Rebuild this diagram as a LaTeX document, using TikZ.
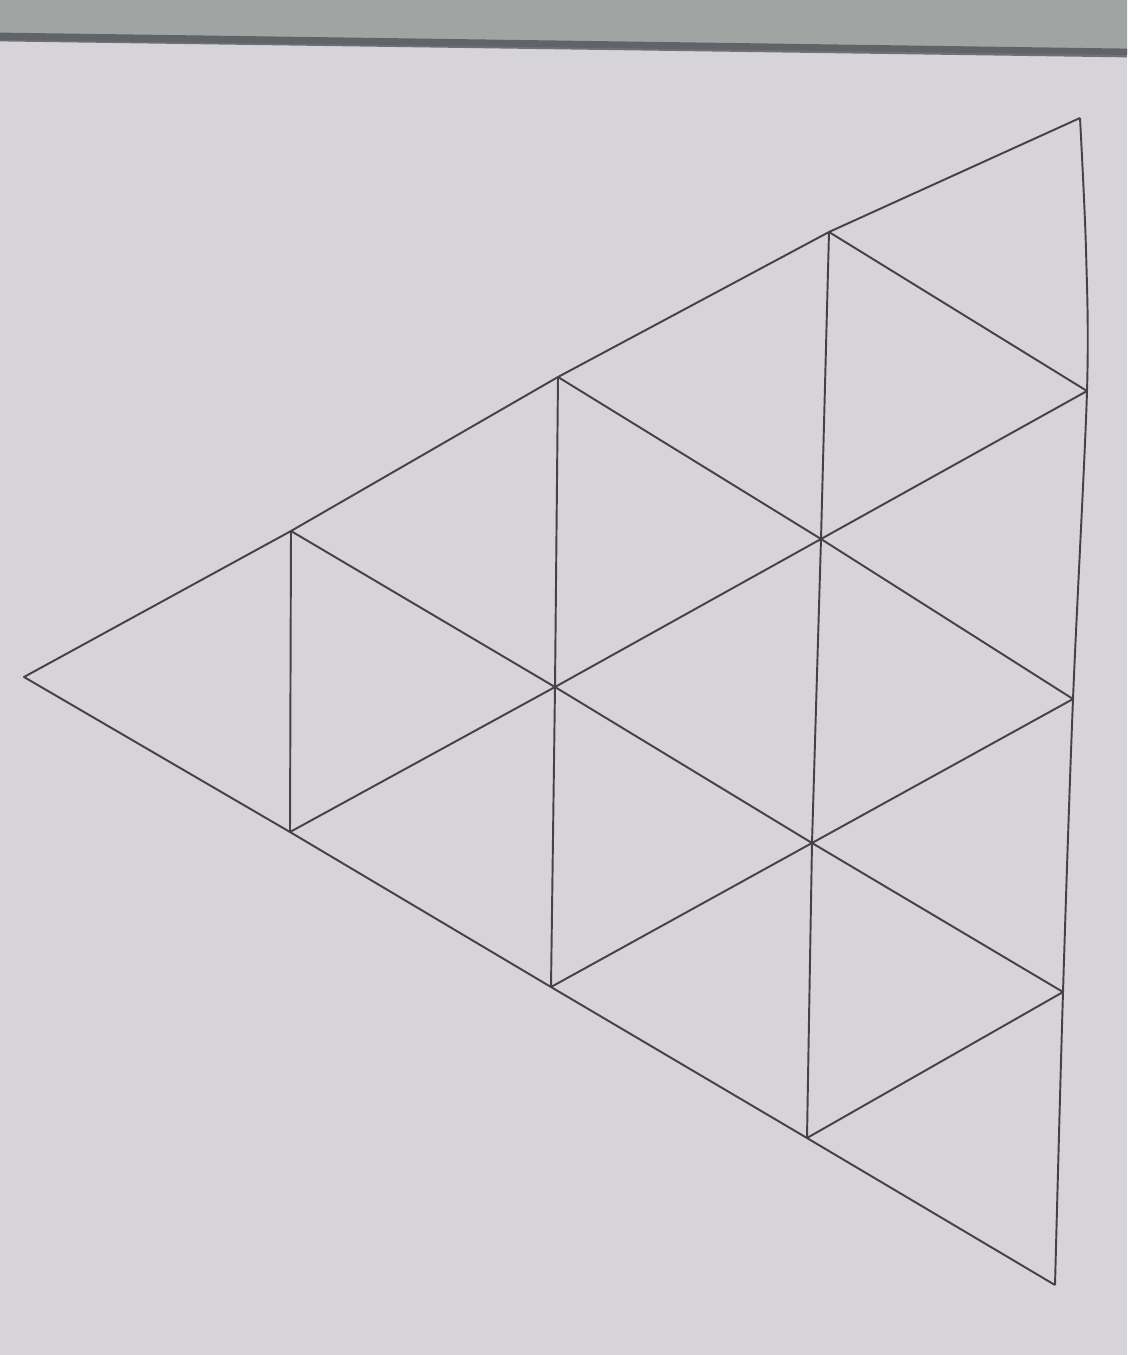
\documentclass[tikz,border=0pt]{standalone}
\definecolor{paper}{RGB}{214,212,216}
\definecolor{band}{RGB}{160,165,163}
\definecolor{bandedge}{RGB}{70,72,80}
\definecolor{ink}{RGB}{68,66,70}
\begin{document}
\begin{tikzpicture}[x=0.02cm,y=-0.02cm,
  edge/.style={draw=ink, line width=1.1pt, line join=round}]
\useasboundingbox (0,0) rectangle (1127,1355);
% paper
\fill[paper] (0,0) rectangle (1127,1355);
\fill[band] (0,0) -- (1127,0) -- (1127,55) -- (0,40) -- cycle;
\draw[bandedge, line width=5pt, opacity=0.7] (0,37) -- (1127,53);
% grid points
\coordinate (A) at (24,677);
\coordinate (T1) at (291,531);
\coordinate (T2) at (558,377);
\coordinate (T3) at (829,232);
\coordinate (R0) at (1080,118);
\coordinate (B1) at (290,832);
\coordinate (B2) at (551,987);
\coordinate (B3) at (807,1138);
\coordinate (R4) at (1055,1285);
\coordinate (R1) at (1087,391);
\coordinate (R2) at (1073,699);
\coordinate (R3) at (1063,992);
\coordinate (C) at (555,687);
\coordinate (D) at (821,539);
\coordinate (E) at (812,843);
% outer triangle
\draw[edge] (R4) -- (B3) -- (B2) -- (B1) -- (A) -- (T1) -- (T2) -- (T3) -- (R0);
\draw[edge] plot[smooth] coordinates {(1080,118) (1086,250) (1087,391) (1073,699) (1063,992) (1055,1285)};
% verticals
\draw[edge] (T1) -- (B1);
\draw[edge] (T2) -- (C) -- (B2);
\draw[edge] (T3) -- (D) -- (E) -- (B3);
% lines rising to the right
\draw[edge] (B1) -- (C) -- (D) -- (R1);
\draw[edge] (B2) -- (E) -- (R2);
\draw[edge] (B3) -- (R3);
% lines falling to the right
\draw[edge] (T1) -- (C) -- (E) -- (R3);
\draw[edge] (T2) -- (D) -- (R2);
\draw[edge] (T3) -- (R1);
\end{tikzpicture}
\end{document}
